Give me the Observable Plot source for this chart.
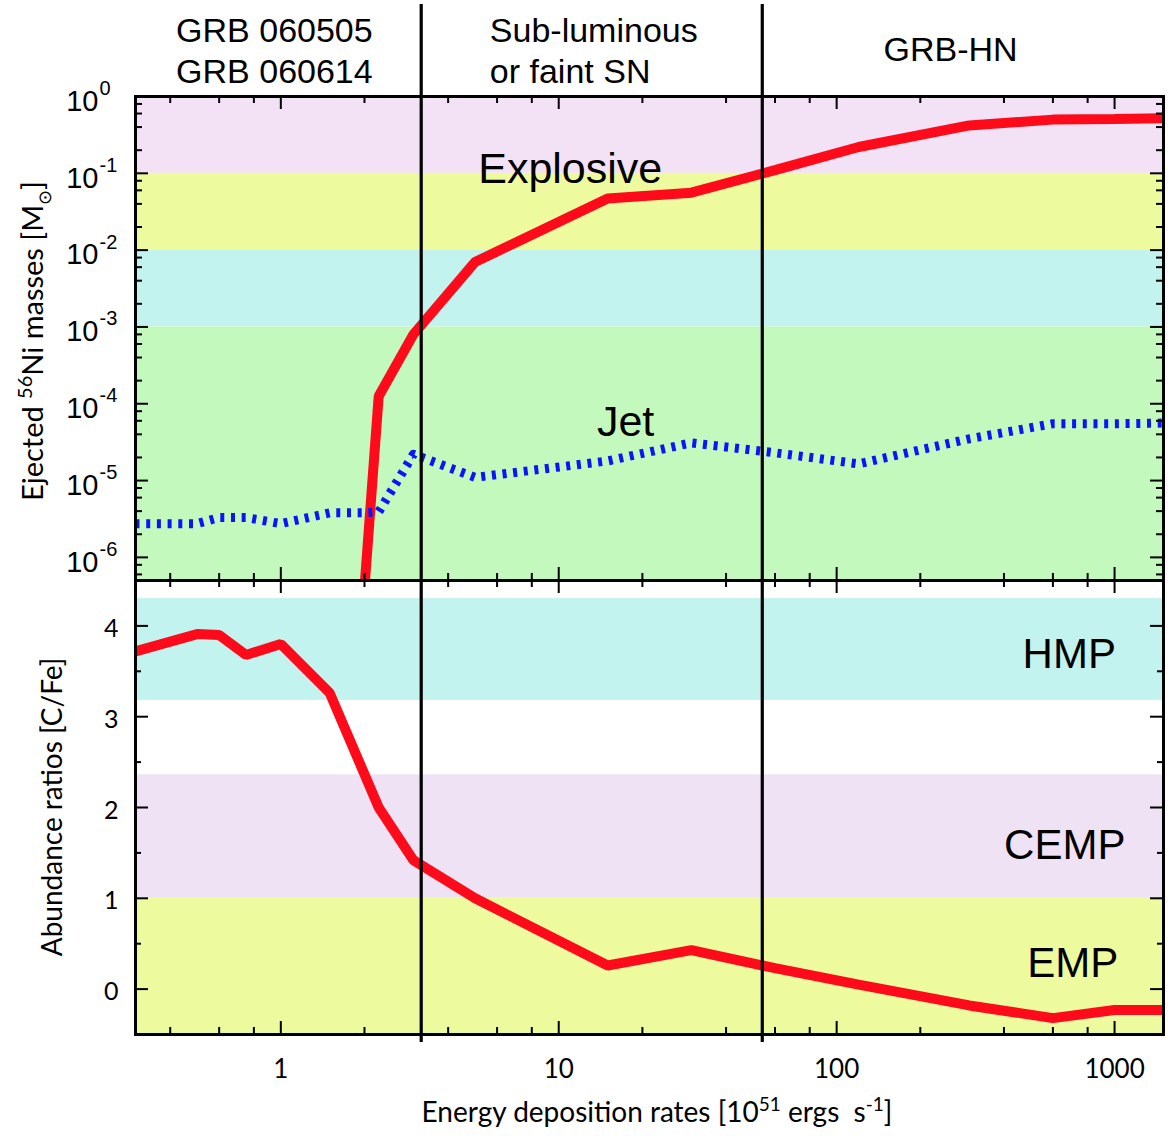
<!DOCTYPE html>
<html>
<head>
<meta charset="utf-8">
<script src="https://cdn.jsdelivr.net/npm/d3@7"></script>
<script src="https://cdn.jsdelivr.net/npm/@observablehq/plot@0.6"></script>
<style>
  html, body { margin: 0; padding: 0; background: #fff; }
  svg { display: block; }
</style>
</head>
<body>
<div id="chart"></div>
<script>
// ---------------- data ----------------
const xDomain = [0.3, 1500];                 // energy deposition rate [1e51 erg/s]
const niDomain = [5e-7, 1];                  // ejected 56Ni mass [Msun]
const cfeDomain = [-0.5, 4.5];               // [C/Fe]

const explosiveRate = [2, 2.25, 3, 5, 15, 30, 60, 120, 300, 600, 1000, 1500];
const explosiveNi   = [4e-7, 1.25e-4, 8e-4, 7e-3, 0.047, 0.056, 0.11, 0.22, 0.42, 0.50, 0.51, 0.52];

const jetRate = [0.3, 0.5, 0.6, 0.75, 1, 1.5, 2, 2.25, 3, 5, 15, 30, 60, 120, 300, 600, 1000, 1500];
const jetNi   = [2.75e-6, 2.75e-6, 3.3e-6, 3.3e-6, 2.75e-6, 3.8e-6, 3.8e-6, 3.9e-6, 2.2e-5, 1.1e-5, 1.8e-5, 3.1e-5, 2.3e-5, 1.65e-5, 3.5e-5, 5.5e-5, 5.5e-5, 5.6e-5];

const cfeRate = [0.3, 0.5, 0.6, 0.75, 1, 1.5, 2.25, 3, 5, 15, 30, 60, 120, 300, 600, 1000, 1500];
const cfeValue = [3.72, 3.91, 3.90, 3.68, 3.80, 3.26, 2.0, 1.42, 1.0, 0.26, 0.43, 0.23, 0.05, -0.18, -0.32, -0.23, -0.23];

const regimeEdges = [3.2, 54];

const niBandLo = [0.1, 0.01, 0.001, 5e-7];
const niBandHi = [1, 0.1, 0.01, 0.001];
const cfeBandLo = [3.18, 1, -0.5];
const cfeBandHi = [4.3, 2.36, 1];

const xMajorTicks = [1, 10, 100, 1000];
const xTickLabels = ["1", "10", "100", "1000"];
const xMinorTicks = [0.4, 0.6, 0.8, 2, 4, 6, 8, 20, 40, 60, 80, 200, 400, 600, 800];
const niDecades = [1e-6, 1e-5, 1e-4, 1e-3, 1e-2, 1e-1, 1];
const niExponents = ["-6", "-5", "-4", "-3", "-2", "-1", "0"];
const niMinorTicks = [6e-7, 8e-7, 2e-6, 4e-6, 6e-6, 8e-6, 2e-5, 4e-5, 6e-5, 8e-5, 2e-4, 4e-4, 6e-4, 8e-4,
                      2e-3, 4e-3, 6e-3, 8e-3, 2e-2, 4e-2, 6e-2, 8e-2, 0.2, 0.4, 0.6, 0.8];
const cfeMajorTicks = [0, 1, 2, 3, 4];
const cfeMinorTicks = [0.5, 1.5, 2.5, 3.5];

const headerTwoLine = [
  {text: "GRB 060505\nGRB 060614", x: 0.42},
  {text: "Sub-luminous\nor faint SN", x: 5.65}
];
const headerOneLine = [{text: "GRB-HN", x: 257}];
const topLabels = [{text: "Explosive", x: 11.0, y: 0.0759}, {text: "Jet", x: 17.4, y: 3.85e-5}];
const bottomLabels = [{text: "HMP", x: 687, y: 3.54}, {text: "CEMP", x: 662, y: 1.43}, {text: "EMP", x: 707, y: 0.13}];

// ---------------- styles ----------------
const LAV = "#f3e1f6", YEL = "#eefa9e", CYA = "#c3f3ef", GRN = "#c4f9be";
const niBandFill = [LAV, YEL, CYA, GRN];
const cfeBandFill = [CYA, "#f0e2f5", YEL];
const RED = "#fe0b1b", BLUE = "#0a14ff";
const SANS = "'Liberation Sans', Arial, sans-serif";
const HUM = "Lato, 'Open Sans', sans-serif";

const W = 1168, ML = 135, MR = 5;
const topH = 580, topMT = 96;
const botH = 556, botMB = 102;
const frameW = W - ML - MR;
const topFH = topH - topMT;
const botFH = botH - botMB;
const MAJ = 13, MIN = 7;

function xTickRules(vals, len, fh) {
  return [
    Plot.ruleX(vals, {stroke: "black", strokeWidth: 2, insetTop: fh - len}),
    Plot.ruleX(vals, {stroke: "black", strokeWidth: 2, insetBottom: fh - len})
  ];
}
function yTickRules(vals, len) {
  return [
    Plot.ruleY(vals, {stroke: "black", strokeWidth: 2, insetRight: frameW - len}),
    Plot.ruleY(vals, {stroke: "black", strokeWidth: 2, insetLeft: frameW - len})
  ];
}
const idx = n => Array.from({length: n}, (_, i) => i);

// ---------------- top panel ----------------
const topSvg = Plot.plot({
  width: W, height: topH,
  marginTop: topMT, marginBottom: 0, marginLeft: ML, marginRight: MR,
  style: "max-width:none;display:block;background:#fff;overflow:visible",
  x: {type: "log", domain: xDomain, axis: null},
  y: {type: "log", domain: niDomain, axis: null},
  marks: [
    ...idx(niBandLo.length).map(i => Plot.rect([i], {
      x1: () => xDomain[0], x2: () => xDomain[1],
      y1: () => niBandLo[i], y2: () => niBandHi[i], fill: niBandFill[i]
    })),
    Plot.line(idx(explosiveRate.length), {
      x: i => explosiveRate[i], y: i => explosiveNi[i],
      stroke: RED, strokeWidth: 10, strokeLinejoin: "miter", strokeLinecap: "butt", clip: true
    }),
    Plot.line(idx(jetRate.length), {
      x: i => jetRate[i], y: i => jetNi[i],
      stroke: BLUE, strokeWidth: 9, strokeDasharray: "4,6.7", strokeLinecap: "butt", clip: true
    }),
    ...xTickRules(xMajorTicks, MAJ, topFH),
    ...xTickRules(xMinorTicks, MIN, topFH),
    ...yTickRules(niDecades, MAJ),
    ...yTickRules(niMinorTicks, MIN),
    Plot.ruleX(regimeEdges, {stroke: "black", strokeWidth: 3.2, insetTop: -92}),
    Plot.frame({stroke: "black", strokeWidth: 3}),
    Plot.text(niDecades, {y: d => d, text: () => "10", frameAnchor: "left", textAnchor: "end",
      dx: -37, dy: 5, fontSize: 29, fontFamily: SANS, fill: "black"}),
    Plot.text(niDecades, {y: d => d, text: (d, i) => niExponents[i], frameAnchor: "left", textAnchor: "start",
      dx: -36, dy: -8, fontSize: 20, fontFamily: SANS, fill: "black"}),
    Plot.text(headerTwoLine, {x: "x", text: "text", frameAnchor: "top", textAnchor: "start",
      lineAnchor: "bottom", lineHeight: 1.206, dy: -14, fontSize: 34, fontFamily: SANS, fill: "black"}),
    Plot.text(headerOneLine, {x: "x", text: "text", frameAnchor: "top", textAnchor: "middle",
      lineAnchor: "bottom", dy: -36, fontSize: 34, fontFamily: SANS, fill: "black"}),
    Plot.text(topLabels, {x: "x", y: "y", text: "text", textAnchor: "middle", lineAnchor: "bottom",
      fontSize: 43, fontFamily: SANS, fill: "black"})
  ]
});

// ---------------- bottom panel ----------------
const bottomSvg = Plot.plot({
  width: W, height: botH,
  marginTop: 0, marginBottom: botMB, marginLeft: ML, marginRight: MR,
  style: "max-width:none;display:block;background:#fff;overflow:visible",
  x: {type: "log", domain: xDomain, axis: null},
  y: {type: "linear", domain: cfeDomain, axis: null},
  marks: [
    ...idx(cfeBandLo.length).map(i => Plot.rect([i], {
      x1: () => xDomain[0], x2: () => xDomain[1],
      y1: () => cfeBandLo[i], y2: () => cfeBandHi[i], fill: cfeBandFill[i]
    })),
    Plot.line(idx(cfeRate.length), {
      x: i => cfeRate[i], y: i => cfeValue[i],
      stroke: RED, strokeWidth: 10, strokeLinejoin: "miter", strokeLinecap: "butt", clip: true
    }),
    ...xTickRules(xMajorTicks, MAJ, botFH),
    ...xTickRules(xMinorTicks, MIN, botFH),
    ...yTickRules(cfeMajorTicks, MAJ),
    ...yTickRules(cfeMinorTicks, MIN - 1),
    Plot.ruleX(regimeEdges, {stroke: "black", strokeWidth: 3.2, insetBottom: -8}),
    Plot.frame({stroke: "black", strokeWidth: 3}),
    Plot.text(cfeMajorTicks, {y: d => d, text: d => String(d), frameAnchor: "left", textAnchor: "end",
      dx: -17, dy: 3, fontSize: 25, fontFamily: HUM, fill: "black"}),
    Plot.text(xMajorTicks, {x: d => d, text: (d, i) => xTickLabels[i], frameAnchor: "bottom",
      textAnchor: "middle", lineAnchor: "bottom", dy: 43, fontSize: 26, fontFamily: HUM, fill: "black"}),
    Plot.text(bottomLabels, {x: "x", y: "y", text: "text", textAnchor: "middle", lineAnchor: "bottom",
      fontSize: 42, fontFamily: SANS, fill: "black"})
  ]
});

// ---------------- axis titles with super/subscripts ----------------
function title(svg, transform, size, parts) {
  const t = d3.select(svg).append("text")
    .attr("transform", transform)
    .attr("text-anchor", "middle")
    .attr("fill", "black")
    .style("font-family", HUM)
    .style("font-size", size + "px")
    .style("white-space", "pre");
  for (const p of parts) {
    const s = t.append("tspan").text(p.t);
    if (p.dy) s.attr("dy", p.dy);
    if (p.size) s.style("font-size", p.size + "px");
  }
}
title(topSvg, "translate(43,341) rotate(-90)", 29, [
  {t: "Ejected "}, {t: "56", dy: -11, size: 20}, {t: "Ni masses [M", dy: 11},
  {t: "\u2299", dy: 8, size: 18}, {t: "]", dy: -8}
]);
title(bottomSvg, "translate(62,227) rotate(-90)", 28, [{t: "Abundance ratios [C/Fe]"}]);
title(bottomSvg, "translate(657,542)", 28, [
  {t: "Energy deposition rates [10"}, {t: "51", dy: -11, size: 19}, {t: " ergs  s", dy: 11},
  {t: "-1", dy: -11, size: 19}, {t: "]", dy: 11}
]);

const root = document.getElementById("chart");
root.appendChild(topSvg);
root.appendChild(bottomSvg);
</script>
</body>
</html>
